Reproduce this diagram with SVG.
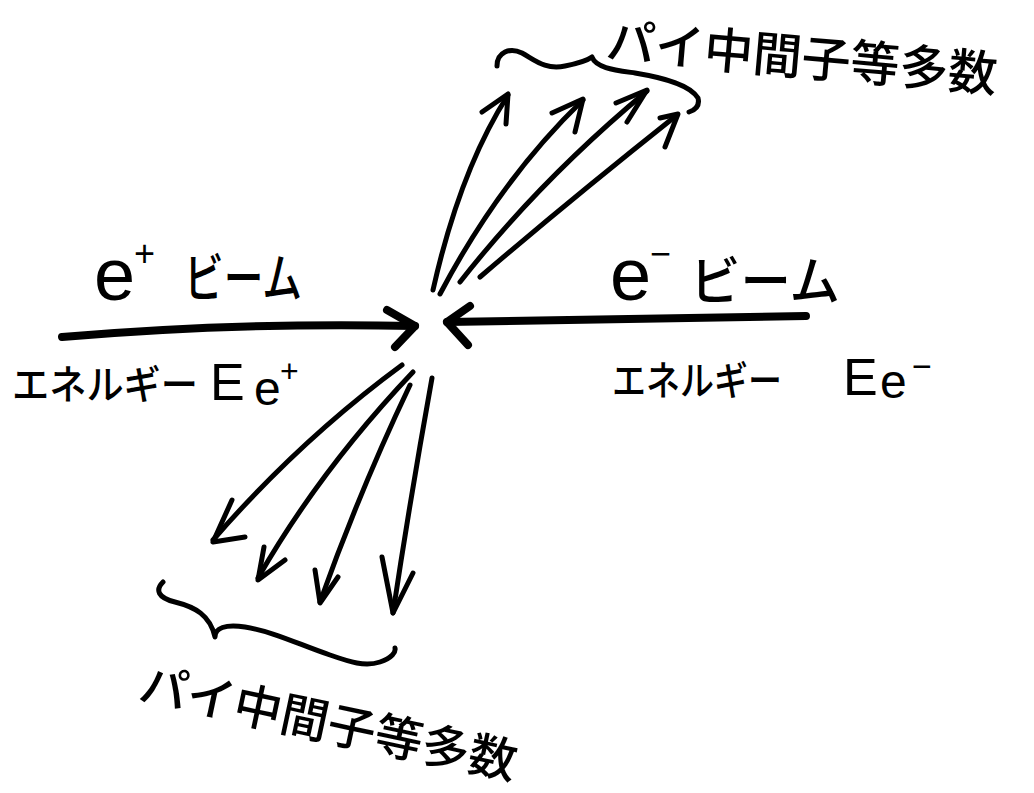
<svg xmlns="http://www.w3.org/2000/svg" width="1034" height="793" viewBox="0 0 1034 793">
<style>
.ink{fill:none;stroke:#000;stroke-linecap:round;stroke-linejoin:round}
.beam{stroke-width:8}
.ray{stroke-width:5}
.jp{font-family:"Noto Sans CJK JP","Noto Sans CJK SC",sans-serif;font-weight:500;fill:#000}
.lat{font-family:"Liberation Sans","DejaVu Sans",sans-serif;fill:#000}
</style>
<rect width="1034" height="793" fill="#fff"/>
<g id="connectors">
  <g id="beam-positron">
    <path class="ink beam" d="M62,337 Q240,322 415,326"/>
    <path class="ink beam" d="M387,310 L415,326 L395,347"/>
  </g>
  <g id="beam-electron">
    <path class="ink beam" d="M806,316 L447,322"/>
    <path class="ink beam" d="M470,306 L447,322 L468,345"/>
  </g>
  <g id="products-up">
    <path class="ink ray" d="M433,290 Q460,170 508,95"/>
    <path class="ink ray" d="M482,112 L508,94 L506,124"/>
    <path class="ink ray" d="M440,294 Q500,180 583,100"/>
    <path class="ink ray" d="M552,113 L583,99 L575,132"/>
    <path class="ink ray" d="M460,282 Q540,180 647,91"/>
    <path class="ink ray" d="M616,103 L647,90 L627,122"/>
    <path class="ink ray" d="M480,277 Q570,200 677,115"/>
    <path class="ink ray" d="M660,118 L678,114 L665,147"/>
  </g>
  <g id="products-down">
    <path class="ink ray" d="M402,365 Q300,440 213,540"/>
    <path class="ink ray" d="M232,500 L213,542 L245,537"/>
    <path class="ink ray" d="M413,372 Q320,470 258,578"/>
    <path class="ink ray" d="M264,547 L258,580 L285,560"/>
    <path class="ink ray" d="M410,385 Q360,490 320,602"/>
    <path class="ink ray" d="M315,570 L320,603 L338,577"/>
    <path class="ink ray" d="M432,378 Q410,500 393,613"/>
    <path class="ink ray" d="M382,557 L393,613 L413,573"/>
  </g>
  <g id="braces">
    <path class="ink ray" d="M497,66 C497,52 510,47 522,53 C535,60 545,70 565,66 C580,63 588,60 592,57 C596,68 615,70 635,73 C665,78 690,85 698,98 C700,106 695,110 689,112"/>
    <path class="ink ray" d="M163,582 C155,590 158,598 175,602 C195,607 210,615 215,637 C215,628 225,624 245,627 C275,632 300,645 330,655 C350,662 365,667 380,662 C392,658 396,652 395,648"/>
  </g>
</g>
<g id="label-positron-beam">
  <text class="lat" x="94" y="300" font-size="74">e</text>
  <text class="lat" x="134" y="266" font-size="36">+</text>
  <text class="jp" x="184" y="297" font-size="52" textLength="118" lengthAdjust="spacingAndGlyphs">ビーム</text>
</g>
<g id="label-positron-energy">
  <text class="jp" x="12" y="399" font-size="40" textLength="186" lengthAdjust="spacingAndGlyphs">エネルギー</text>
  <text class="lat" x="210" y="400" font-size="52">E</text>
  <text class="lat" x="254" y="405" font-size="48">e</text>
  <text class="lat" x="280" y="382" font-size="32">+</text>
</g>
<g id="label-electron-beam">
  <text class="lat" x="610" y="300" font-size="74">e</text>
  <text class="lat" x="650" y="266" font-size="36">−</text>
  <text class="jp" x="690" y="300" font-size="52" textLength="150" lengthAdjust="spacingAndGlyphs">ビーム</text>
</g>
<g id="label-electron-energy">
  <text class="jp" x="612" y="395" font-size="40" textLength="170" lengthAdjust="spacingAndGlyphs">エネルギー</text>
  <text class="lat" x="843" y="395" font-size="52">E</text>
  <text class="lat" x="880" y="398" font-size="48">e</text>
  <text class="lat" x="912" y="378" font-size="34">−</text>
</g>
<g id="label-products-up">
  <text class="jp" x="605" y="58" font-size="49" transform="rotate(5 605 58)">パイ中間子等多数</text>
</g>
<g id="label-products-down">
  <text class="jp" x="137" y="700" font-size="48" transform="rotate(12 137 700)">パイ中間子等多数</text>
</g>
</svg>
